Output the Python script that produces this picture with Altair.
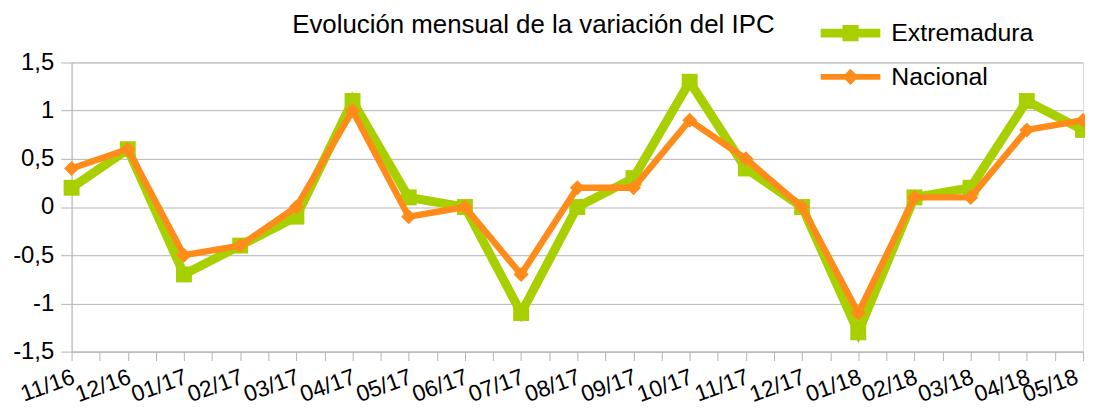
import json
import altair as alt
import pandas as pd

months = ["11/16", "12/16", "01/17", "02/17", "03/17", "04/17", "05/17", "06/17",
          "07/17", "08/17", "09/17", "10/17", "11/17", "12/17", "01/18", "02/18",
          "03/18", "04/18", "05/18"]
extremadura = [0.2, 0.6, -0.7, -0.4, -0.1, 1.1, 0.1, 0.0, -1.1, 0.0, 0.3, 1.3,
               0.4, 0.0, -1.3, 0.1, 0.2, 1.1, 0.8]
nacional = [0.4, 0.6, -0.5, -0.4, 0.0, 1.0, -0.1, 0.0, -0.7, 0.2, 0.2, 0.9,
            0.5, 0.0, -1.1, 0.1, 0.1, 0.8, 0.9]
series_names = ["Extremadura", "Nacional"]
series_colors = ["#a8cf00", "#ff8c1a"]
y_ticks = [-1.5, -1.0, -0.5, 0.0, 0.5, 1.0, 1.5]
title_text = "Evolución mensual de la variación del IPC"

FONT = "Liberation Sans"
GRID = "#b3b3b3"

rows = []
for name, vals in zip(series_names, [extremadura, nacional]):
    for i, (m, v) in enumerate(zip(months, vals)):
        rows.append({"idx": i, "mes": m, "serie": name, "valor": v})
df = pd.DataFrame(rows)

last_idx = len(months) - 1
x_ticks = [i / 2 for i in range(0, 2 * last_idx + 1)]
x_label_expr = f"datum.value % 1 === 0 ? {json.dumps(months)}[datum.value] : ''"
y_label_expr = "(datum.value < 0 ? '-' : '') + replace(toString(abs(datum.value)), '.', ',')"

x_enc = alt.X("idx:Q",
              scale=alt.Scale(domain=[0, last_idx], nice=False, zero=False),
              axis=alt.Axis(values=x_ticks, labelExpr=x_label_expr, grid=False,
                            domainColor=GRID, tickColor=GRID, tickSize=9,
                            labelAngle=340, labelAlign="right", labelBaseline="top",
                            labelFontSize=23, labelFont=FONT, labelColor="black",
                            labelPadding=5,
                            labelOffset={"condition": {"test": f"datum.value === {last_idx}",
                                                       "value": -10},
                                         "value": -2},
                            labelOverlap=False, labelBound=False, labelFlush=False,
                            title=None))
y_enc = alt.Y("valor:Q",
              scale=alt.Scale(domain=[-1.5, 1.5], nice=False, zero=False),
              axis=alt.Axis(values=y_ticks, labelExpr=y_label_expr, grid=True,
                            gridColor=GRID, domainColor=GRID, tickColor=GRID,
                            tickSize=11, labelFontSize=24, labelFont=FONT,
                            labelColor="black", labelPadding=7, title=None))

base = alt.Chart(df)

ext_line = base.transform_filter(alt.datum.serie == series_names[0]).mark_line(
    color=series_colors[0], strokeWidth=9, strokeJoin="miter").encode(x=x_enc, y=y_enc)
ext_pts = base.transform_filter(alt.datum.serie == series_names[0]).mark_point(
    shape="square", filled=True, size=256, opacity=1, color=series_colors[0]).encode(x=x_enc, y=y_enc)
nac_line = base.transform_filter(alt.datum.serie == series_names[1]).mark_line(
    color=series_colors[1], strokeWidth=6.5, strokeJoin="miter").encode(x=x_enc, y=y_enc)
nac_pts = base.transform_filter(alt.datum.serie == series_names[1]).mark_point(
    shape="diamond", filled=True, size=230, opacity=1, color=series_colors[1]).encode(x=x_enc, y=y_enc)

legend_paths = [
    "M-1,-0.15H1V0.15H-1Z M-0.27,-0.27H0.27V0.27H-0.27Z",
    "M-1,-0.1H1V0.1H-1Z M0,-0.27L0.27,0L0,0.27L-0.27,0Z",
]
legend_layer = base.transform_filter("false").mark_point(filled=True, opacity=1).encode(
    x=x_enc, y=y_enc,
    color=alt.Color("serie:N", scale=alt.Scale(domain=series_names, range=series_colors),
                    legend=alt.Legend(orient="none", legendX=753, legendY=-60.5,
                                      title=None, symbolSize=3600, rowPadding=-15,
                                      labelOffset=10, labelFontSize=25, labelFont=FONT,
                                      labelColor="black", symbolOpacity=1)),
    shape=alt.Shape("serie:N", scale=alt.Scale(domain=series_names, range=legend_paths)),
)

chart = alt.layer(ext_line, ext_pts, nac_line, nac_pts, legend_layer).properties(
    width=1018, height=291,
    autosize=alt.AutoSizeParams(type="none"),
    padding={"left": 64, "top": 53.5, "right": 2, "bottom": 60},
    title=alt.TitleParams(text=title_text, anchor="start", frame="group", dx=222,
                          dy=85, offset=28, baseline="alphabetic", fontSize=26,
                          font=FONT, fontWeight="normal", color="black"),
).configure_view(stroke=GRID, strokeWidth=1).configure(background="white")

chart.save("out.html", embed_options={"renderer": "svg", "actions": False})
